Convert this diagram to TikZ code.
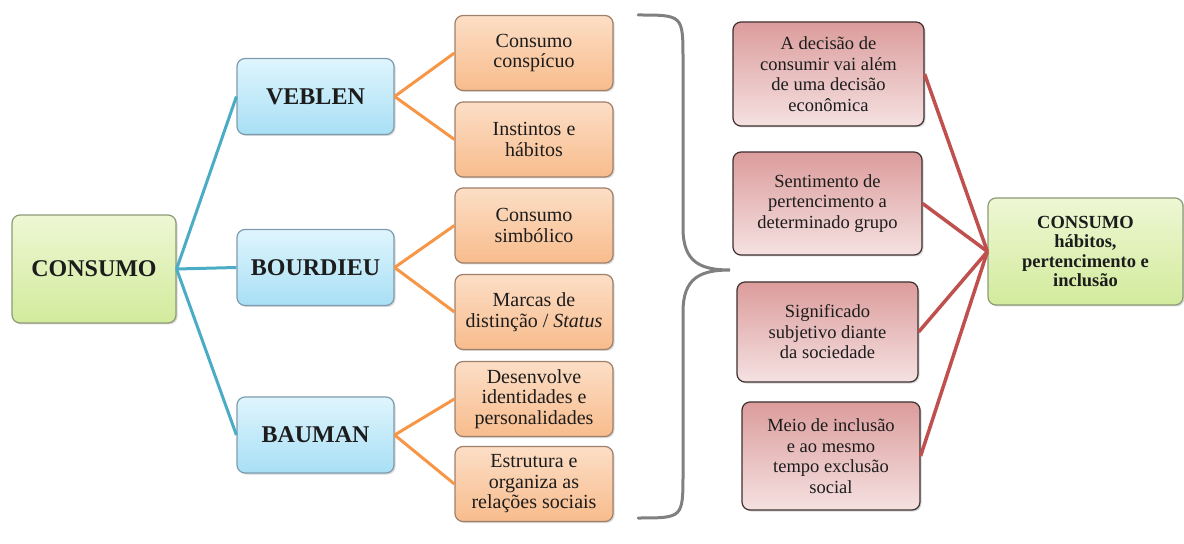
\documentclass[tikz,border=0pt]{standalone}
\usepackage{fontspec}
\setmainfont{LiberationSerif}[Extension=.ttf, UprightFont=*-Regular, BoldFont=*-Bold,
    ItalicFont=*-Italic, BoldItalicFont=*-BoldItalic]
\usetikzlibrary{shadows}
\definecolor{greentop}{HTML}{EEF7D4}
\definecolor{greenbot}{HTML}{D2EB9C}
\definecolor{greenline}{HTML}{8E9A78}
\definecolor{bluetop}{HTML}{DFF5FD}
\definecolor{bluebot}{HTML}{A8DFF5}
\definecolor{blueline}{HTML}{7F9CAE}
\definecolor{orangetop}{HTML}{FCDEC6}
\definecolor{orangebot}{HTML}{F8BC8C}
\definecolor{orangeline}{HTML}{A0806A}
\definecolor{redtop}{HTML}{DC9C9C}
\definecolor{redbot}{HTML}{F5E1E1}
\definecolor{redline}{HTML}{3E3030}
\definecolor{linkblue}{HTML}{4BACC6}
\definecolor{linkorange}{HTML}{F79646}
\definecolor{linkred}{HTML}{C0504D}
\definecolor{bracegrey}{HTML}{808080}
\definecolor{inkdark}{HTML}{1C1C1C}
\begin{document}
\begin{tikzpicture}[x=1bp, y=-1bp,
    box/.style={rounded corners=8bp, line width=1.2bp, align=center, inner sep=1bp, text=inkdark,
        drop shadow={shadow xshift=1.5bp, shadow yshift=-1.5bp, opacity=0.3}},
    rootbox/.style={box, draw=greenline, top color=greentop, bottom color=greenbot},
    authorbox/.style={box, draw=blueline, top color=bluetop, bottom color=bluebot,
        minimum width=157bp, minimum height=76bp, font=\fontsize{24bp}{26bp}\selectfont\bfseries},
    ideabox/.style={box, draw=orangeline, top color=orangetop, bottom color=orangebot,
        minimum width=158bp, minimum height=75bp, font=\fontsize{20bp}{20.5bp}\selectfont},
    effectbox/.style={box, draw=redline, top color=redtop, bottom color=redbot,
        font=\fontsize{18.5bp}{20.5bp}\selectfont},
    bluelink/.style={linkblue, line width=3bp},
    orangelink/.style={linkorange, line width=3bp},
    redlink/.style={linkred, line width=3.5bp},
    bracepen/.style={bracegrey, line width=3bp, line cap=round}]
    \useasboundingbox (0,0) rectangle (1184,544);

    \node[rootbox, minimum width=164bp, minimum height=108bp,
        font=\fontsize{24bp}{26bp}\selectfont\bfseries] (cons) at (94,269) {CONSUMO};

    \node[authorbox] (veblen) at (315.5,96.5) {VEBLEN};
    \node[authorbox] (bourdieu) at (315.5,267.5) {BOURDIEU};
    \node[authorbox] (bauman) at (315.5,435) {BAUMAN};

    \node[ideabox] (c1) at (534,53) {Consumo\\conspícuo};
    \node[ideabox] (c2) at (534,139.5) {Instintos e\\hábitos};
    \node[ideabox] (c3) at (534,225.5) {Consumo\\simbólico};
    \node[ideabox] (c4) at (534,312) {Marcas de\\distinção / \textit{Status}};
    \node[ideabox] (c5) at (534,399) {Desenvolve\\identidades e\\personalidades};
    \node[ideabox] (c6) at (534,484) {Estrutura e\\organiza as\\relações sociais};

    \coordinate (bracetop) at (638,15);
    \coordinate (bracetip) at (730,270);
    \coordinate (bracebot) at (638,518);
    \draw[bracepen] (bracetop) .. controls (683,15) .. (683,60) -- (683,228)
        .. controls (683,262) and (700,270) .. (bracetip)
        .. controls (700,270) and (683,278) .. (683,312) -- (683,473)
        .. controls (683,518) .. (bracebot);

    \node[effectbox, minimum width=191bp, minimum height=104bp] (r1) at (828.5,74)
        {A decisão de\\consumir vai além\\de uma decisão\\econômica};
    \node[effectbox, minimum width=189bp, minimum height=103bp] (r2) at (827.5,203.5)
        {Sentimento de\\pertencimento a\\determinado grupo};
    \node[effectbox, minimum width=181bp, minimum height=100bp] (r3) at (827.5,332)
        {Significado\\subjetivo diante\\da sociedade};
    \node[effectbox, minimum width=178bp, minimum height=108bp] (r4) at (831,456)
        {Meio de inclusão\\e ao mesmo\\tempo exclusão\\social};

    \node[rootbox, minimum width=195bp, minimum height=107bp,
        font=\fontsize{18.5bp}{19.5bp}\selectfont\bfseries] (result) at (1085.5,251.5)
        {CONSUMO\\hábitos,\\pertencimento e\\inclusão};

    \foreach \t in {veblen,bourdieu,bauman} \draw[bluelink] (cons.east) -- (\t.west);
    \foreach \a/\b in {veblen/c1,veblen/c2,bourdieu/c3,bourdieu/c4,bauman/c5,bauman/c6}
        \draw[orangelink] (\a.east) -- (\b.west);
    \foreach \r in {r1,r2,r3,r4} \draw[redlink] (\r.east) -- (result.west);
\end{tikzpicture}
\end{document}
